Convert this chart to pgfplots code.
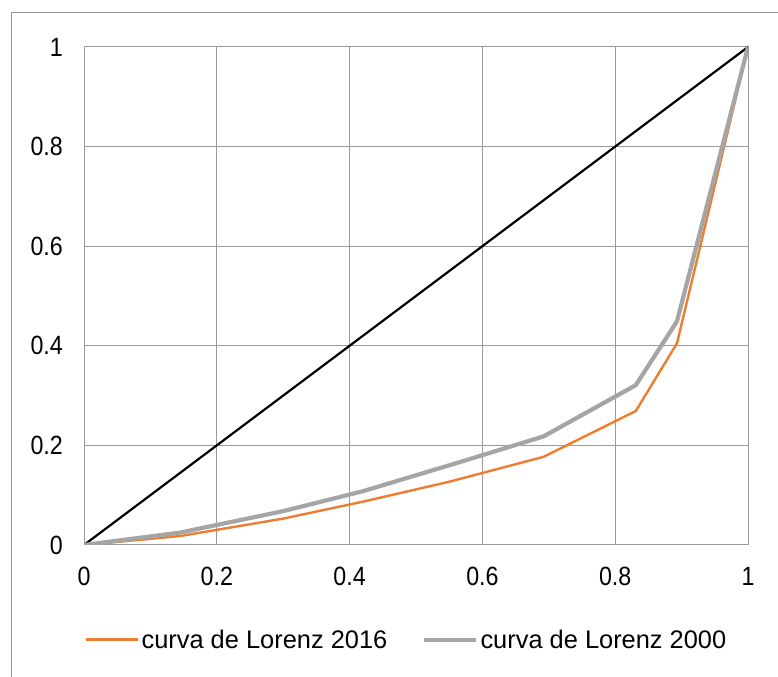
\documentclass[border=0pt]{standalone}
\usepackage{pgfplots}
\pgfplotsset{compat=1.18}
\usepackage{fontspec}
\setmainfont{Liberation Sans}
\newfontfamily\tickfont{Liberation Sans}[FakeStretch=0.88]
\definecolor{xlorange}{RGB}{237,125,49}
\definecolor{xlgray}{RGB}{165,165,165}
\definecolor{gridgray}{RGB}{155,155,155}
\definecolor{framegray}{RGB}{150,150,150}
\begin{document}
\begin{tikzpicture}[x=1bp,y=1bp]
\useasboundingbox (0,0) rectangle (778,677);
\draw[framegray, line width=1bp] (11,0) -- (11,664) -- (778,664);
\begin{axis}[
  at={(84bp,132bp)}, anchor=south west,
  scale only axis, width=664bp, height=498bp,
  xmin=0, xmax=1, ymin=0, ymax=1,
  xtick={0,0.2,...,1}, ytick={0,0.2,...,1},
  xticklabels={0,0.2,0.4,0.6,0.8,1},
  yticklabels={0,0.2,0.4,0.6,0.8,1},
  major tick length=0pt,
  grid=major,
  grid style={gridgray, line width=1bp},
  axis line style={gridgray, line width=1bp},
  tick label style={font=\tickfont\fontsize{26.5}{30}\selectfont, inner sep=0pt},
  yticklabel style={anchor=east, xshift=-21bp},
  xticklabel style={anchor=north, yshift=-22bp},
  /pgf/number format/assume math mode=true,
  legend style={at={(0.0015,-0.19)}, anchor=west, draw=none, fill=none,
    font=\fontsize{25.5}{28}\selectfont, inner sep=0pt,
    /tikz/every even column/.append style={column sep=33bp},
    legend cell align=left},
  legend columns=2,
  legend image code/.code={\draw[#1] (0,0) -- (52bp,0);},
  every axis legend/.append style={nodes={inner xsep=2bp}},
]
\addplot[black, line width=2.2bp, forget plot] coordinates {(0,0) (1,1)};
\addplot[xlorange, line width=2.4bp] coordinates {
 (0,0) (0.145,0.018) (0.30,0.053) (0.42,0.087) (0.55,0.127) (0.692,0.177)
 (0.831,0.269) (0.893,0.405) (1,1)};
\addlegendentry{curva de Lorenz 2016}
\addplot[xlgray, line width=4.2bp] coordinates {
 (0,0) (0.145,0.025) (0.30,0.068) (0.42,0.108) (0.55,0.160) (0.692,0.218)
 (0.831,0.321) (0.893,0.449) (1,1)};
\addlegendentry{curva de Lorenz 2000}
\end{axis}
\end{tikzpicture}
\end{document}
